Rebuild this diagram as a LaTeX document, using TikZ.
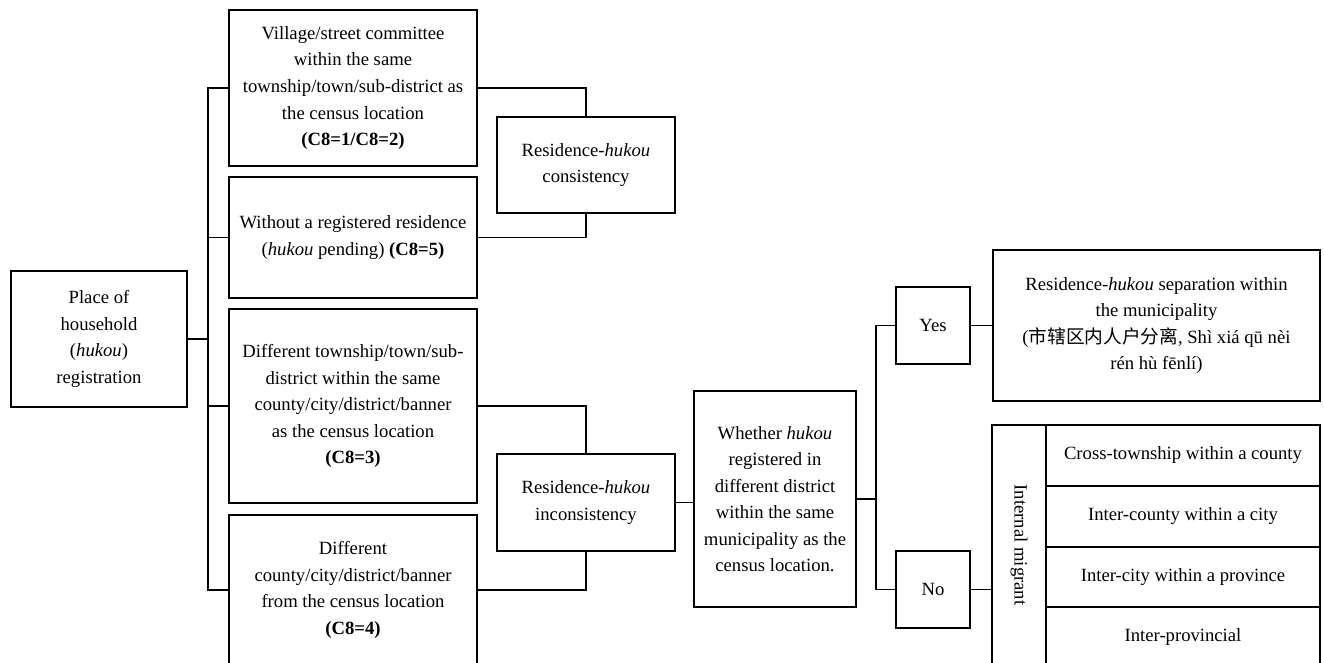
\documentclass[tikz,border=0pt]{standalone}
\usepackage{fontspec}
\setmainfont{Liberation Serif}
\newfontfamily\cjk{Noto Sans CJK SC}
\tikzset{
  box/.style={draw, line width=1.4pt, align=center, inner sep=0pt, font=\fontsize{14pt}{19.9pt}\selectfont},
  sz/.style 2 args={minimum width=#1*0.75pt, minimum height=#2*0.75pt},
  conn/.style={line width=1.4pt},
}
\begin{document}
\begin{tikzpicture}[x=0.75pt,y=-0.75pt]
\useasboundingbox (0,0) rectangle (1324,663);
% left column
\node[box, sz={176}{136}] (place) at (99,339) {Place of\\household\\(\textit{hukou})\\registration};
\node[box, sz={248}{156}] (A) at (353,88) {Village/street committee\\within the same\\township/town/sub-district as\\the census location\\\textbf{(C8=1/C8=2)}};
\node[box, sz={248}{121}] (B) at (353,237.5) {Without a registered residence\\(\textit{hukou} pending) \textbf{(C8=5)}};
\node[box, sz={248}{194}] (C) at (353,406) {Different township/town/sub-\\district within the same\\county/city/district/banner\\as the census location\\\textbf{(C8=3)}};
\node[box, sz={248}{150}] (D) at (353,590) {Different\\county/city/district/banner\\from the census location\\\textbf{(C8=4)}};
% middle
\node[box, sz={178}{96}] (cons) at (586,165) {Residence-\textit{hukou}\\consistency};
\node[box, sz={178}{97}] (incons) at (586,502.5) {Residence-\textit{hukou}\\inconsistency};
\node[box, sz={162}{216}] (whether) at (775,499) {Whether \textit{hukou}\\registered in\\different district\\within the same\\municipality as the\\census location.};
\node[box, sz={74}{77}] (yes) at (933,325.5) {Yes};
\node[box, sz={74}{77}] (no) at (933,589.5) {No};
\node[box, sz={327}{151}] (sep) at (1156.5,325.5) {Residence-\textit{hukou} separation within\\the municipality\\({\cjk 市辖区内人户分离}, Shì xiá qū nèi\\rén hù fēnlí)};
% internal migrant block
\node[box, sz={54}{243}] (mig) at (1019,546.5) {};
\node[font=\fontsize{14pt}{19.9pt}\selectfont, rotate=-90, inner sep=0pt] (miglabel) at (1019,545) {Internal migrant};
\node[box, sz={274}{61}] (r1) at (1183,455.5) {Cross-township within a county};
\node[box, sz={274}{61}] (r2) at (1183,516.5) {Inter-county within a city};
\node[box, sz={274}{60}] (r3) at (1183,577) {Inter-city within a province};
\node[box, sz={274}{61}] (r4) at (1183,637.5) {Inter-provincial};
% connectors
\coordinate (t) at (208,0);
\coordinate (u) at (876,0);
\draw[conn] (place.east) -- (place.east -| t);
\draw[conn] (A.west) -- (A.west -| t) |- (D.west);
\draw[conn] (B.west) -- (B.west -| t);
\draw[conn] (C.west) -- (C.west -| t);
\draw[conn] (A.east) -| (cons.north);
\draw[conn] (B.east) -| (cons.south);
\draw[conn] (C.east) -| (incons.north);
\draw[conn] (D.east) -| (incons.south);
\draw[conn] (incons.east) -- (incons.east -| whether.west);
\draw[conn] (whether.east) -- (whether.east -| u);
\draw[conn] (yes.west) -- (yes.west -| u) |- (no.west);
\draw[conn] (yes.east) -- (sep.west);
\draw[conn] (no.east) -- (no.east -| mig.west);
\end{tikzpicture}
\end{document}
